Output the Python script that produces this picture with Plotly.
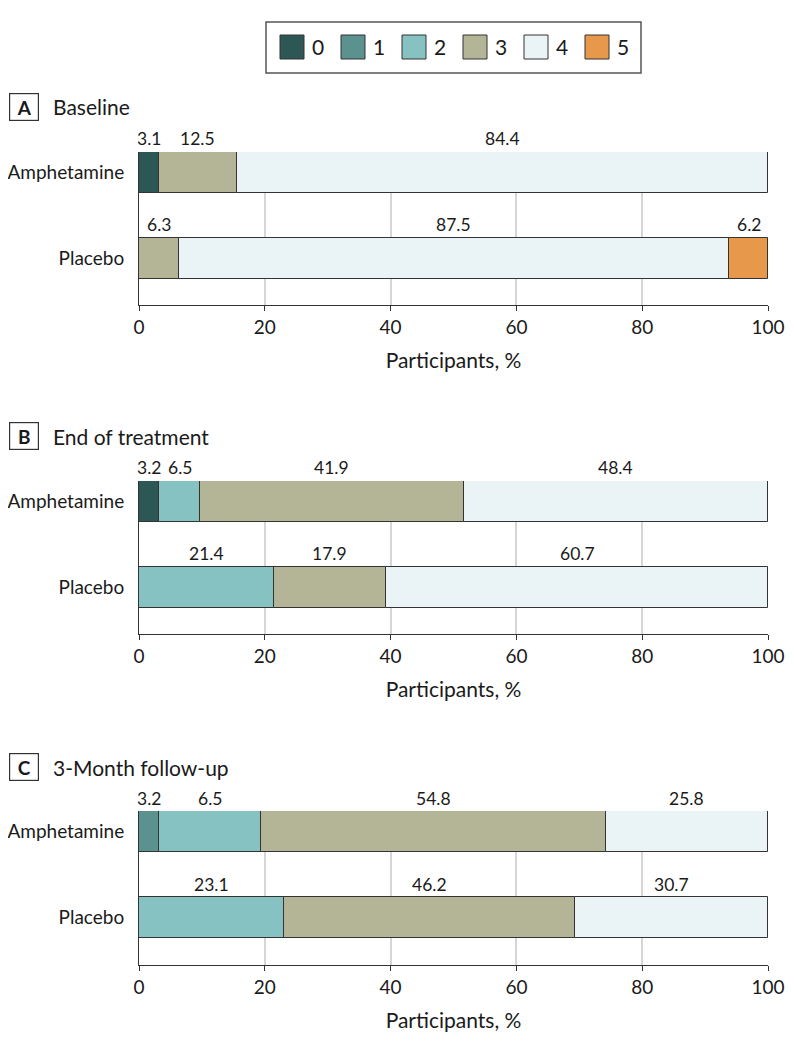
import plotly.graph_objects as go

# ---------------- data ----------------
categories = ["0", "1", "2", "3", "4", "5"]
colors = ["#2c5755", "#5b918f", "#85c2c1", "#b3b596", "#eaf3f5", "#e8984a"]
groups = ["Amphetamine", "Placebo"]
panel_letters = ["A", "B", "C"]
panel_titles = ["Baseline", "End of treatment", "3-Month follow-up"]

# segment widths (participants, %) per category 0..5
baseline_amph = [3.1, None, None, 12.5, 84.4, None]
baseline_plac = [None, None, None, 6.3, 87.5, 6.2]
end_amph = [3.2, None, 6.5, 41.9, 48.4, None]
end_plac = [None, None, 21.4, 17.9, 60.7, None]
followup_amph = [None, 3.2, 16.2, 54.8, 25.8, None]
followup_plac = [None, None, 23.1, 46.2, 30.7, None]

# printed labels above the segments
baseline_amph_lbl = ["3.1", None, None, "12.5", "84.4", None]
baseline_plac_lbl = [None, None, None, "6.3", "87.5", "6.2"]
end_amph_lbl = ["3.2", None, "6.5", "41.9", "48.4", None]
end_plac_lbl = [None, None, "21.4", "17.9", "60.7", None]
followup_amph_lbl = [None, "3.2", "6.5", "54.8", "25.8", None]
followup_plac_lbl = [None, None, "23.1", "46.2", "30.7", None]

x_ticks = [0, 20, 40, 60, 80, 100]

panels = [
    (baseline_amph, baseline_plac, baseline_amph_lbl, baseline_plac_lbl),
    (end_amph, end_plac, end_amph_lbl, end_plac_lbl),
    (followup_amph, followup_plac, followup_amph_lbl, followup_plac_lbl),
]

# ---------------- layout geometry (page pixels) ----------------
PAGE_OFF = 8                      # default body margin of the html page
W, H = 794 - 2 * PAGE_OFF, 1049 - 2 * PAGE_OFF
FONT = "Lato, 'Open Sans', sans-serif"
TXT = "#1a1a1a"
plot_x0, plot_x1 = 139, 768
panel_px = [(152, 305), (481, 634), (811, 965)]   # (top, bottom) of each plot area
header_px = [107, 436, 767]
bar_w = 0.477
bar_half_px = 20
y_amph, y_plac = 1, 0
y_range = [-0.5465, 1.238]


def px_x(v):
    return (v - PAGE_OFF) / W


def px_y(v):
    return 1 - (v - PAGE_OFF) / H


fig = go.Figure()
annotations = []
shapes = []

for i, (amph, plac, amph_l, plac_l) in enumerate(panels):
    xa = "x" if i == 0 else f"x{i+1}"
    ya = "y" if i == 0 else f"y{i+1}"
    for row_vals, row_lbls, yv in ((amph, amph_l, y_amph), (plac, plac_l, y_plac)):
        base = 0.0
        for c, v in enumerate(row_vals):
            if v is None:
                continue
            fig.add_trace(go.Bar(
                x=[v], y=[yv], base=[base], orientation="h", width=bar_w,
                marker=dict(color=colors[c], line=dict(color="#333333", width=1)),
                xaxis=xa, yaxis=ya, showlegend=False, hoverinfo="skip",
            ))
            lbl = row_lbls[c]
            if lbl:
                annotations.append(dict(
                    x=base + v / 2, y=yv, xref=xa, yref=ya,
                    text=lbl, showarrow=False, yanchor="bottom",
                    yshift=bar_half_px + 1,
                    font=dict(family=FONT, size=17.5, color=TXT),
                ))
            base += v

    top, bottom = panel_px[i]
    xkey = "xaxis" if i == 0 else f"xaxis{i+1}"
    ykey = "yaxis" if i == 0 else f"yaxis{i+1}"
    fig.update_layout(**{
        xkey: dict(
            domain=[px_x(plot_x0), px_x(plot_x1)], anchor=ya, range=[0, 100],
            tickvals=x_ticks, ticktext=[str(t) for t in x_ticks],
            ticks="outside", ticklen=5, tickcolor="#333333", tickwidth=1,
            showline=True, linecolor="#333333", linewidth=1,
            showgrid=True, gridcolor="#d6d6d6", gridwidth=1.5, zeroline=False,
            tickfont=dict(family=FONT, size=19, color=TXT),
            title=dict(text="Participants, %", standoff=16,
                       font=dict(family=FONT, size=21, color=TXT)),
            automargin=False, fixedrange=True,
        ),
        ykey: dict(
            domain=[px_y(bottom), px_y(top)], anchor=xa, range=y_range,
            tickvals=[y_amph, y_plac], ticktext=groups,
            showline=True, linecolor="#333333", linewidth=1,
            showgrid=False, zeroline=False, ticks="",
            ticklabelstandoff=10,
            tickfont=dict(family=FONT, size=19, color=TXT),
            automargin=False, fixedrange=True,
        ),
    })

    # panel header: boxed letter + title
    annotations.append(dict(
        x=px_x(9), y=px_y(header_px[i]), xref="paper", yref="paper",
        xanchor="left", yanchor="middle", text=f"<b>{panel_letters[i]}</b>",
        showarrow=False, width=22, height=20, borderpad=3,
        bordercolor="#333333", borderwidth=1.2, align="center",
        font=dict(family=FONT, size=19, color=TXT),
    ))
    annotations.append(dict(
        x=px_x(51), y=px_y(header_px[i]), xref="paper", yref="paper",
        xanchor="left", yanchor="middle", text=panel_titles[i],
        showarrow=False, font=dict(family=FONT, size=21, color=TXT),
    ))

# ---------------- custom legend ----------------
shapes.append(dict(type="rect", xref="paper", yref="paper",
                   x0=px_x(266), x1=px_x(641), y0=px_y(73), y1=px_y(22),
                   line=dict(color="#555555", width=1.5), fillcolor="white"))
leg_x0, leg_step, sw = 280, 61, 24
for c, name in enumerate(categories):
    sx = leg_x0 + c * leg_step
    shapes.append(dict(type="rect", xref="paper", yref="paper",
                       x0=px_x(sx), x1=px_x(sx + sw), y0=px_y(59), y1=px_y(35),
                       line=dict(color="#333333", width=1), fillcolor=colors[c]))
    annotations.append(dict(
        x=px_x(sx + sw + 6), y=px_y(47), xref="paper", yref="paper",
        xanchor="left", yanchor="middle", text=name, showarrow=False,
        font=dict(family=FONT, size=21, color=TXT),
    ))

fig.update_layout(
    width=W, height=H,
    margin=dict(l=0, r=0, t=0, b=0, autoexpand=False),
    paper_bgcolor="white", plot_bgcolor="white",
    barmode="overlay", bargap=0,
    showlegend=False,
    annotations=annotations, shapes=shapes,
    font=dict(family=FONT, color=TXT),
)

fig.write_html("out.html")
